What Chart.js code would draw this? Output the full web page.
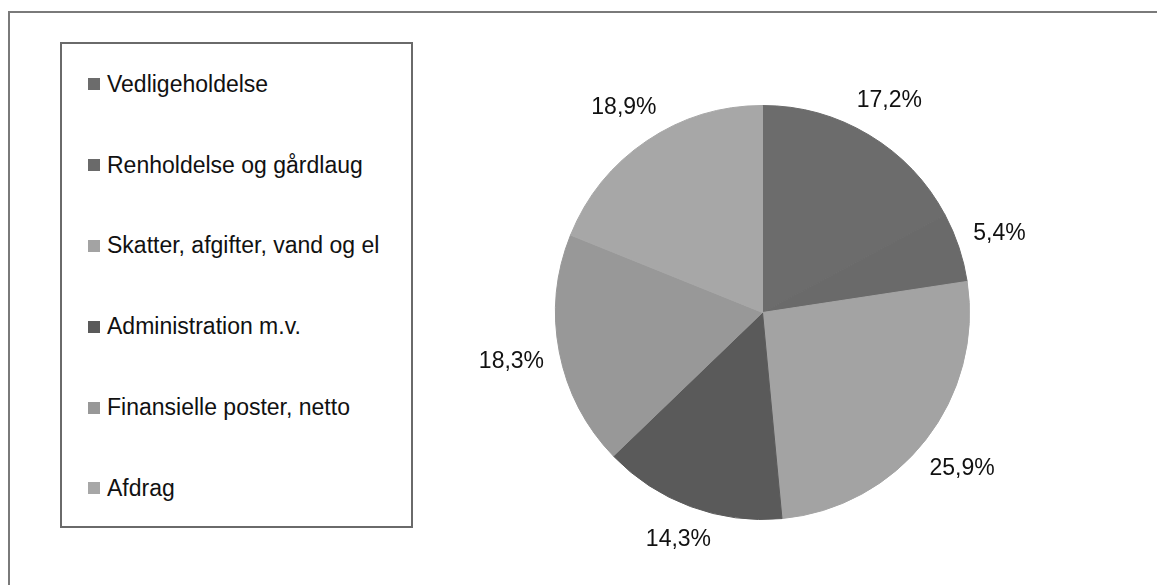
<!DOCTYPE html>
<html>
<head>
<meta charset="utf-8">
<script src="https://cdn.jsdelivr.net/npm/chart.js@4.4.1/dist/chart.umd.min.js"></script>
<style>
  html, body { margin: 0; padding: 0; background: #fff; }
  #wrap { position: relative; width: 1157px; height: 585px; overflow: hidden; background: #fff; }
  #frame { position: absolute; left: 8px; top: 11px; width: 1200px; height: 700px;
           border-left: 2px solid #7a7a7a; border-top: 2px solid #7a7a7a; }
  #legend { position: absolute; left: 60px; top: 42px; width: 349px; height: 482px;
            border: 2px solid #6a6a6a; background: #fff; z-index: 2;
            font-family: Arial, "Liberation Sans", sans-serif; font-size: 23px; color: #111; }
  .item { height: 80.8px; display: flex; align-items: center; padding-left: 26px; }
  .box { width: 12px; height: 12px; margin-right: 7px; flex: none; }
  #chartBox { position: absolute; left: 0; top: 0; width: 1157px; height: 585px; z-index: 1; }
</style>
</head>
<body>
<div id="wrap">
  <div id="frame"></div>
  <div id="chartBox"><canvas id="pie"></canvas></div>
  <div id="legend"></div>
</div>
<script>
// Kategorier og andele (%)
var categories = ['Vedligeholdelse', 'Renholdelse og gårdlaug', 'Skatter, afgifter, vand og el',
                  'Administration m.v.', 'Finansielle poster, netto', 'Afdrag'];
var shares = [17.2, 5.4, 25.9, 14.3, 18.3, 18.9];
var colors = ['#6c6c6c', '#6a6a6a', '#a3a3a3', '#5a5a5a', '#989898', '#a7a7a7'];

// legend som html
var legendEl = document.getElementById('legend');
categories.forEach(function (name, i) {
    var row = document.createElement('div');
    row.className = 'item';
    var sq = document.createElement('span');
    sq.className = 'box';
    sq.style.background = colors[i];
    var txt = document.createElement('span');
    txt.textContent = name;
    row.appendChild(sq);
    row.appendChild(txt);
    legendEl.appendChild(row);
});

// procent-labels uden for cirklen (afstand efter tekstens størrelse)
var outsideLabels = {
    id: 'outsideLabels',
    afterDatasetsDraw: function (chart) {
        var ctx = chart.ctx;
        var meta = chart.getDatasetMeta(0);
        ctx.save();
        ctx.font = '23px Arial, "Liberation Sans", sans-serif';
        ctx.fillStyle = '#111';
        ctx.textAlign = 'center';
        ctx.textBaseline = 'middle';
        meta.data.forEach(function (arc, i) {
            var p = arc.getProps(['x', 'y', 'startAngle', 'endAngle', 'outerRadius'], true);
            var mid = (p.startAngle + p.endAngle) / 2;
            var txt = shares[i].toFixed(1).replace('.', ',') + '%';
            var w = ctx.measureText(txt).width;
            var half = Math.abs(Math.cos(mid)) * w / 2 + Math.abs(Math.sin(mid)) * 9;
            var d = p.outerRadius + 15 + half;
            ctx.fillText(txt, p.x + Math.cos(mid) * d, p.y + Math.sin(mid) * d);
        });
        ctx.restore();
    }
};

var ctx = document.getElementById('pie').getContext('2d');
var chart = new Chart(ctx, {
    type: 'pie',
    data: {
        labels: categories,
        datasets: [{
            data: shares,
            backgroundColor: colors,
            borderColor: colors,
            borderWidth: 1,
            radius: 207
        }]
    },
    options: {
        responsive: true,
        maintainAspectRatio: false,
        animation: false,
        layout: { padding: { left: 400, right: 32, top: 40, bottom: 0 } },
        plugins: {
            legend: { display: false },
            tooltip: { enabled: false }
        }
    },
    plugins: [outsideLabels]
});
</script>
</body>
</html>
